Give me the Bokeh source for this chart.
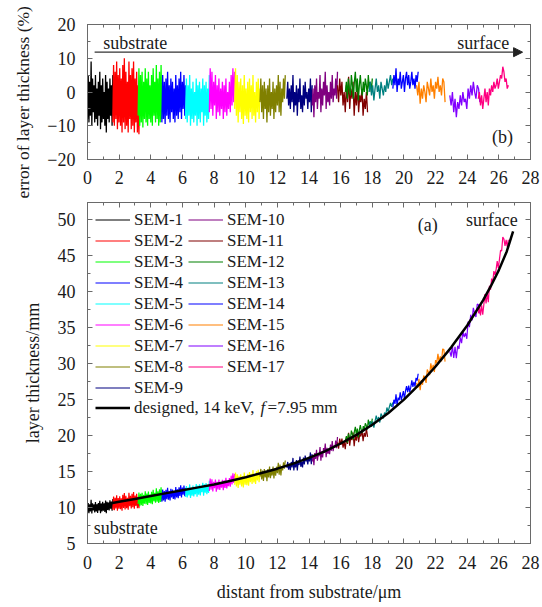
import numpy as np
from bokeh.plotting import figure
from bokeh.layouts import column
from bokeh.models import (Range1d, LinearAxis, SingleIntervalTicker, Label, Arrow, Title,
                          NormalHead, Legend, LegendItem, CustomJSTickFormatter)
from bokeh.embed import file_html
from bokeh.resources import INLINE

# ---------------- data ----------------
sem_labels = [f"SEM-{i}" for i in range(1, 18)]
sem_colors = ["#000000", "#ff0000", "#00ff00", "#0000ff", "#00ffff", "#ff00ff",
              "#ffff00", "#808000", "#000080", "#800080", "#800000", "#008000",
              "#008080", "#0000ff", "#ff8000", "#8000ff", "#ff0080"]
seg_start = [0.0, 1.6, 3.2, 4.7, 6.2, 7.7, 9.3, 10.9, 12.6, 14.2, 15.8, 16.3, 17.8, 19.3, 20.8, 22.9, 24.7]
seg_end = [1.6, 3.3, 4.75, 6.2, 7.7, 9.3, 10.9, 12.5, 14.2, 15.8, 17.7, 18.0, 19.3, 20.9, 22.6, 24.8, 26.6]

err1 = [-8, 5, -9, 3, -7, 9, -10, 4, -6, 2, -9, 5, -8, 1, -10, 3, -7, 6, -11, 2, -9, 4, -8, 0, -10, 5, -12, 3, -8, 1, -9, 4, -7, 2, -10, 5]
err2 = [-9, 8, -10, 6, -8, 9, -11, 5, -9, 7, -10, 4, -12, 8, -9, 10, -11, 6, -10, 3, -12, 9, -8, 5, -11, 7, -10, 9, -12, 4, -9, 6, -12, 2, -12.5, 3]
err3 = [-7, 7, -10, 5, -9, 6, -10.5, 3, -8, 7, -9, 4, -10, 6, -8, 2, -9, 5, -10, 7, -7, 3, -9, 8, -8, 4, -10, 6, -9, 8, -8, 2]
err4 = [-9, 5, -8, 3, -9.5, 4, -7, 6, -8, 2, -9, 4, -6, 3, -8, 1, -9, 5, -7, 2, -8, 4, -6, 6, -8, 3, -5, 5, -7, 2]
err5 = [-8, 4, -9, 2, -7, 5, -10, 1, -8, 3, -9, 0, -7, 4, -10, 2, -8, 3, -9, 1, -6, 4, -10, 2, -7, 3, -9, 1, -8, 5]
err6 = [-6, 7, -5, 6, -7, 3, -4, 5, -8, 2, -6, 4, -7, 1, -5, 3, -8, 2, -6, 4, -7, 0, -5, 3, -6, 5, -4, 7, -3, 6]
err7 = [-5, 7, -7, 5, -9, 3, -6, 4, -8, 2, -9.5, 5, -7, 1, -8, 3, -9, 4, -6, 2, -8, 5, -7, 0, -9, 3, -6, 4, -8, 1]
err8 = [-3, 4, -6, 2, -8, 3, -5, 1, -9, 2, -6, 4, -7, 0, -5, 3, -8, 1, -6, 2, -4, 5, -6, 3, -7, 1, -3, 4, -2, 5]
err9 = [-2, 3, -4, 1, -5, 2, -3, 5, -6, 0, -4, 2, -7, 1, -3, 4, -5, -1, -6, 2, -4, 3, -2, 0, -5, 1, -3, 4, -6, 2]
err10 = [-4, 1, -7.5, 2, -3, 4, -5, 0, -2, 5, -6, 1, -4, 3, -1, 6, -5, 2, -3, 0, -4, 3, -2, 5, -3, 1, -1, 4, -2, 6]
err11 = [2, -3, 4, -1, 3, -4, 0, -6, 2, -3, 4.5, -5, 1, -2, 3, -7, 0, -4, 2, -6, -1, -3, 1, -7, -2, -5, 0, -6]
err12 = [0, 3, -2, 4, 1, -1, 5, 2, -2, 3, 6, 0, 4, -2.5, 2, 5, 1, -1, 3, 0, 4, 2, -1, 5, 1, 3, 0, 4]
err13 = [0, 3, -1, 2, -2.5, 1, 4, 0, 2, -2, 3, 1, -1, 2, 0, 4, 1, 3, 5, 2, 4]
err14 = [1, 5, 2, 7, 0, 4, 2, 6, 1, 3, 5, 0, 4, 6, 2, 5, 1, 3, 6, 2, 4, 1, 5, 3, 6]
err15 = [2, -1, 3, -3.5, 1, -2, 2, 0, -3, 3, 1, -1, 4, 0, 2, -2, 3, 1, 4.5, 0, 2, -1, 4, 3, -3]
err16 = [-1, -4, 0, -6, -2, -7.5, -3, -5, -1, -4, 0, -3, -2, -5, 1, -2, 2, -1, 3, 0, -2, 2, 1, -3]
err17 = [-2, 0, -4, -1, -5, -2, 1, -3, 0, -4, 1, -1, 2, 0, 3, 1, 2, 4, 1, 3, 5, 4, 7.5, 6, 3, 4, 1, 2]
sem_err = [err1, err2, err3, err4, err5, err6, err7, err8, err9, err10,
           err11, err12, err13, err14, err15, err16, err17]

# designed thickness curve (14 keV, f = 7.95 mm)
design_x = [0, 1, 2, 3, 4, 5, 6, 7, 8, 9, 10, 11, 12, 13, 14, 15, 16, 17, 18, 19, 20,
            21, 22, 23, 24, 25, 25.5, 26, 26.5, 26.9]
design_t = [10.1, 10.4, 10.8, 11.2, 11.6, 12.0, 12.4, 12.8, 13.2, 13.7, 14.2, 14.8, 15.4,
            16.1, 16.9, 17.8, 18.9, 20.1, 21.5, 23.1, 25.0, 27.2, 29.6, 32.3, 35.3, 38.8,
            40.8, 43.0, 45.6, 48.4]

# ---------------- style ----------------
FONT = "Liberation Serif"
AX = "#6a6a6a"
TXT = "#1a1a1a"


def style_axis(ax, labels=True):
    ax.axis_line_color = AX
    ax.major_tick_line_color = AX
    ax.minor_tick_line_color = AX
    ax.major_tick_in = 5
    ax.major_tick_out = 0
    ax.minor_tick_in = 3
    ax.minor_tick_out = 0
    ax.major_label_text_font = FONT
    ax.major_label_text_font_size = "18px"
    ax.major_label_text_color = TXT
    ax.axis_label_text_font = FONT
    ax.axis_label_text_font_size = "18px"
    ax.axis_label_text_font_style = "normal"
    ax.axis_label_text_color = TXT
    if not labels:
        ax.formatter = CustomJSTickFormatter(code="return ''")
        ax.major_label_text_font_size = "1px"
        ax.major_label_standoff = 0


def mirror(p, xint, yint):
    top = LinearAxis(ticker=SingleIntervalTicker(interval=xint, num_minor_ticks=2))
    right = LinearAxis(ticker=SingleIntervalTicker(interval=yint, num_minor_ticks=2))
    style_axis(top, labels=False)
    style_axis(right, labels=False)
    p.add_layout(top, "above")
    p.add_layout(right, "right")


def txt(p, x, y, s, align="left", size="18px", **kw):
    p.add_layout(Label(x=x, y=y, text=s, text_font=FONT, text_font_size=size,
                       text_color=TXT, text_align=align, text_baseline="middle", **kw))


# ---------------- top panel (b) ----------------
p1 = figure(x_range=Range1d(0, 28), y_range=Range1d(-20, 20),
            frame_width=443, frame_height=135,
            min_border_left=87, min_border_right=10, min_border_top=24, min_border_bottom=41,
            output_backend="svg", toolbar_location=None)
p1.grid.grid_line_color = None
p1.outline_line_color = AX
p1.xaxis.ticker = SingleIntervalTicker(interval=2, num_minor_ticks=2)
p1.yaxis.ticker = SingleIntervalTicker(interval=10, num_minor_ticks=2)
style_axis(p1.xaxis[0])
style_axis(p1.yaxis[0])
p1.xaxis.major_label_standoff = 11
p1.yaxis.major_label_standoff = 12
p1.yaxis.major_label_overrides = {-10: "\u221210", -20: "\u221220"}
mirror(p1, 2, 10)
p1.add_layout(Title(text="error of layer thickness (%)", text_font=FONT,
                    text_font_size="17.5px", text_font_style="normal", text_color=TXT,
                    align="left", vertical_align="top", offset=-39, standoff=20), "left")

for i in range(17):
    xs = np.linspace(seg_start[i], seg_end[i], len(sem_err[i]))
    p1.line(xs, sem_err[i], line_color=sem_colors[i], line_width=1.3)

p1.add_layout(Arrow(end=NormalHead(size=9, fill_color="#222222", line_color="#222222"),
                    x_start=0.45, y_start=11.8, x_end=27.5, y_end=11.8,
                    line_color="#333333", line_width=1.2))
txt(p1, 1.0, 14.4, "substrate")
txt(p1, 26.65, 14.4, "surface", align="right")
txt(p1, 26.9, -13.4, "(b)", align="right")

# ---------------- bottom panel (a) ----------------
p2 = figure(x_range=Range1d(0, 28), y_range=Range1d(5, 52.4),
            frame_width=443, frame_height=341,
            min_border_left=87, min_border_right=10, min_border_top=2, min_border_bottom=60,
            output_backend="svg", toolbar_location=None)
p2.grid.grid_line_color = None
p2.outline_line_color = AX
p2.xaxis.ticker = SingleIntervalTicker(interval=2, num_minor_ticks=2)
p2.yaxis.ticker = SingleIntervalTicker(interval=5, num_minor_ticks=2)
style_axis(p2.xaxis[0])
style_axis(p2.yaxis[0])
p2.xaxis.major_label_standoff = 12
p2.yaxis.major_label_standoff = 12
p2.xaxis.axis_label = "distant from substrate/\u03bcm"
p2.yaxis.axis_label = "layer thickness/mm"
p2.xaxis.axis_label_standoff = 10
p2.yaxis.axis_label_standoff = 12
mirror(p2, 2, 5)

sem_r = []
for i in range(17):
    xs = np.linspace(seg_start[i], seg_end[i], len(sem_err[i]))
    t = np.interp(xs, design_x, design_t) * (1 + np.array(sem_err[i]) / 100.0)
    sem_r.append(p2.line(xs, t, line_color=sem_colors[i], line_width=1.2))
rd = p2.line(design_x, design_t, line_color="black", line_width=2.5)


def leg_style(lg):
    lg.background_fill_alpha = 0
    lg.border_line_alpha = 0
    lg.padding = 0
    lg.margin = 0
    lg.spacing = 0
    lg.glyph_width = 35
    lg.glyph_height = 21
    lg.label_height = 21
    lg.label_standoff = 4
    lg.label_text_font = FONT
    lg.label_text_font_size = "17px"
    lg.label_text_color = TXT


leg = Legend(items=[LegendItem(label=sem_labels[i], renderers=[sem_r[i]]) for i in range(17)],
             nrows=9, location=(8, 145))
leg_style(leg)
leg.label_width = 54
p2.add_layout(leg)
leg2 = Legend(items=[LegendItem(label="designed, 14 keV,", renderers=[rd])], location=(8, 125))
leg_style(leg2)
p2.add_layout(leg2)
txt(p2, 10.93, 23.84, "f", size="17px", text_font_style="italic")
txt(p2, 11.38, 23.84, "=7.95 mm", size="17px")

txt(p2, 21.5, 49.3, "(a)", align="center")
txt(p2, 27.2, 49.9, "surface", align="right")
txt(p2, 0.4, 7.2, "substrate")

layout = column(p1, p2, spacing=0)
open("out.html", "w").write(file_html(layout, INLINE))
